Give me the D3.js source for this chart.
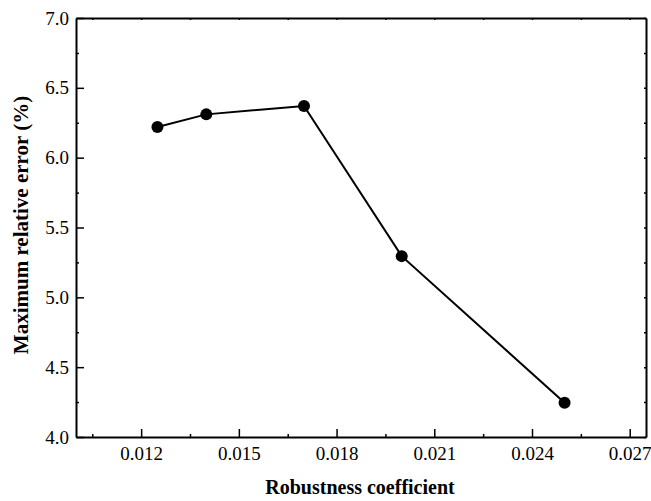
<!DOCTYPE html>
<html>
<head>
<meta charset="utf-8">
<script src="https://cdn.jsdelivr.net/npm/d3@7"></script>
<style>
  html, body { margin: 0; padding: 0; background: #fff; }
  svg { display: block; }
  text { font-family: "Liberation Serif", "Times New Roman", serif; fill: #000; }
</style>
</head>
<body>
<svg id="chart" width="651" height="501"></svg>
<script>
// Robustness coefficient vs. maximum relative error
const robustness = [0.0125, 0.014, 0.017, 0.020, 0.025];
const maxError = [6.22, 6.31, 6.37, 5.295, 4.245];
const xTicks = [0.012, 0.015, 0.018, 0.021, 0.024, 0.027];
const yTicks = [4.0, 4.5, 5.0, 5.5, 6.0, 6.5, 7.0];
const xTitle = "Robustness coefficient";
const yTitle = "Maximum relative error (%)";

const svg = d3.select("#chart");
const margin = { left: 76, right: 5, top: 18, bottom: 64 };
const W = 651, H = 501;

const x = d3.scaleLinear().domain([0.010, 0.0275]).range([margin.left, W - margin.right]);
const y = d3.scaleLinear().domain([4.0, 7.0]).range([H - margin.bottom, margin.top]);

const xMinor = d3.range(0.0105, 0.0276, 0.003).map(v => +v.toFixed(4));
const yMinor = d3.range(4.25, 7.0, 0.5).map(v => +v.toFixed(2));

const fontSize = 19;

// bottom axis
const gx = svg.append("g").attr("transform", `translate(0,${y.range()[0]})`)
  .call(d3.axisBottom(x).tickValues(xTicks).tickFormat(d3.format(".3f")).tickSizeInner(-8).tickSizeOuter(0).tickPadding(10));
gx.append("g").call(d3.axisBottom(x).tickValues(xMinor).tickFormat("").tickSizeInner(-3).tickSizeOuter(0))
  .select(".domain").remove();

// left axis
const gy = svg.append("g").attr("transform", `translate(${x.range()[0]},0)`)
  .call(d3.axisLeft(y).tickValues(yTicks).tickFormat(d3.format(".1f")).tickSizeInner(-8).tickSizeOuter(0).tickPadding(7));
gy.append("g").call(d3.axisLeft(y).tickValues(yMinor).tickFormat("").tickSizeInner(-3).tickSizeOuter(0))
  .select(".domain").remove();

// top and right frame with small inward ticks
svg.append("g").attr("transform", `translate(0,${y.range()[1]})`)
  .call(d3.axisTop(x).tickValues(xTicks.concat(xMinor)).tickFormat("").tickSizeInner(-2).tickSizeOuter(0));
svg.append("g").attr("transform", `translate(${x.range()[1]},0)`)
  .call(d3.axisRight(y).tickValues(yTicks.concat(yMinor)).tickFormat("").tickSizeInner(-2).tickSizeOuter(0));

svg.selectAll(".domain").attr("stroke", "#000").attr("stroke-width", 2);
svg.selectAll(".tick line").attr("stroke", "#000").attr("stroke-width", 1.5);
svg.selectAll(".tick text")
  .style("font-family", '"Liberation Serif", "Times New Roman", serif')
  .style("font-size", fontSize + "px").attr("fill", "#000");

// axis titles
svg.append("text")
  .attr("x", 360).attr("y", 494)
  .attr("text-anchor", "middle").style("font-size", "20px").style("font-weight", "bold")
  .text(xTitle);
svg.append("text")
  .attr("transform", `translate(28,225) rotate(-90)`)
  .attr("text-anchor", "middle").style("font-size", "21px").style("font-weight", "bold")
  .text(yTitle);

// data line and markers
const pts = robustness.map((r, i) => [r, maxError[i]]);
svg.append("path").datum(pts)
  .attr("fill", "none").attr("stroke", "#000").attr("stroke-width", 2)
  .attr("d", d3.line().x(d => x(d[0])).y(d => y(d[1])));
svg.selectAll("circle.pt").data(pts).enter().append("circle")
  .attr("class", "pt").attr("cx", d => x(d[0])).attr("cy", d => y(d[1]))
  .attr("r", 6).attr("fill", "#000");
</script>
</body>
</html>
